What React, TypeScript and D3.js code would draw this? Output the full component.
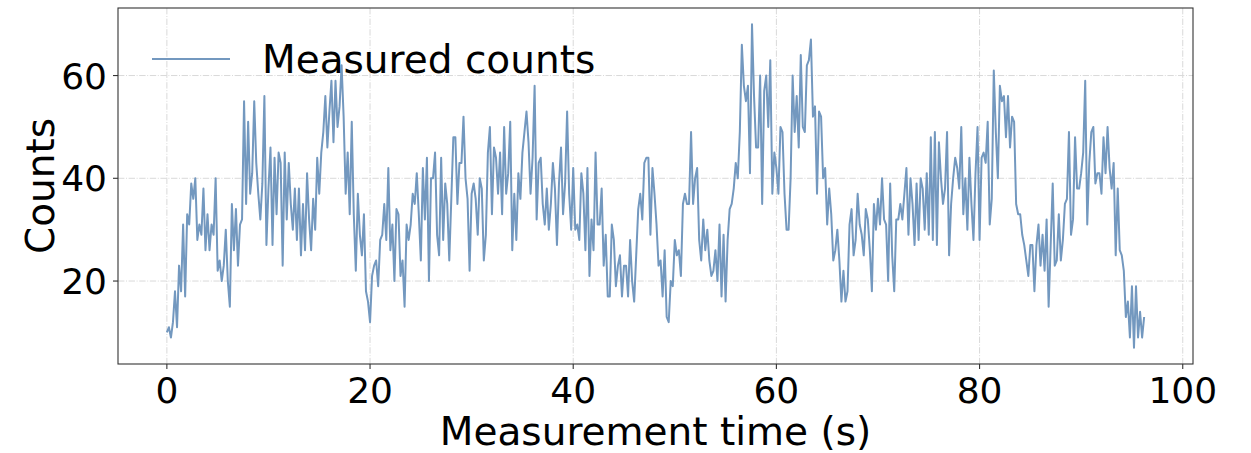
import React from "react";
import * as d3 from "d3";

// sampling interval of the detector (s)
const timeStep = 0.2;

// measured counts, one value per time step
const counts = [
  10, 11, 9, 12, 18, 11, 23, 18, 31, 17, 33, 31, 39, 36, 40, 28, 31, 29, 38, 26,
  33, 26, 31, 29, 40, 22, 24, 20, 23, 30, 20, 15, 35, 26, 34, 23, 31, 32, 55, 35,
  51, 37, 41, 55, 43, 37, 32, 39, 56, 27, 38,
  46, 27, 44, 33, 45, 43, 23, 45, 32, 43, 35, 30, 38, 28, 38, 25, 35, 26, 41, 32,
  26, 36, 30, 44, 37, 45, 49, 56, 46, 53, 59, 47, 59, 50, 54, 62, 52, 37, 45, 33,
  51, 33, 22, 37, 29, 25, 33, 18, 16, 12, 21, 23,
  24, 19, 28, 29, 35, 28, 42, 26, 31, 20, 34, 33, 21, 24, 15, 31, 28, 31, 37, 35,
  41, 33, 24, 42, 32, 44, 20, 40, 40, 45, 29, 25, 44, 28, 39, 35, 24, 36, 48, 48,
  35, 43, 43, 52, 40, 36, 22, 37, 39, 36, 29, 40,
  38, 24, 29, 45, 50, 33, 46, 44, 37, 45, 33, 50, 37, 41, 51, 26, 37, 28, 41, 36,
  45, 49, 53, 47, 37, 44, 58, 32, 43, 44, 35, 31, 38, 30, 35, 43, 38, 27, 39, 46,
  33, 39, 53, 37, 30, 42, 30, 31, 28, 41, 37,
  26, 42, 21, 32, 26, 45, 31, 31, 38, 23, 29, 17, 17, 31, 28, 19, 23, 25, 17, 23,
  23, 17, 28, 20, 16, 25, 34, 37, 32, 43, 44, 44, 29, 42, 37, 31, 23, 24, 17, 26,
  13, 12, 20, 19, 28, 25, 26, 21, 35, 37, 35, 35,
  49, 35, 40, 42, 28, 24, 32, 26, 30, 24, 21, 22, 26, 20, 31, 17, 29, 16, 28, 34,
  35, 38, 43, 40, 49, 66, 58, 55, 58, 41, 70, 56, 46, 46, 60, 35, 57, 60, 50, 63,
  37, 45, 42, 37, 50, 49, 37, 30, 30, 40, 60,
  49, 56, 46, 64, 50, 49, 62, 63, 67, 52, 54, 37, 53, 52, 40, 42, 31, 38, 33, 24,
  26, 30, 24, 16, 22, 16, 18, 31, 34, 25, 28, 37, 31, 29, 25, 34, 32, 26, 18, 35,
  30, 36, 31, 40, 32, 31, 20, 39, 25, 18, 32, 32,
  35, 32, 37, 42, 29, 40, 35, 27, 39, 28, 40, 38, 30, 41, 29, 48, 28, 49, 27, 47,
  40, 35, 38, 49, 25, 35, 40, 44, 42, 38, 50, 33, 40, 30, 44, 35, 28, 41, 50, 28,
  44, 45, 43, 51, 31, 36, 61, 49, 40, 58, 55, 56,
  48, 56, 46, 52, 51, 35, 33, 33, 29, 27, 24, 21, 27, 27, 18, 27, 31, 23, 29, 22,
  32, 15, 27, 39, 23, 24, 33, 24, 28, 35, 36, 49, 29, 32, 48, 38, 38, 41, 45, 59,
  31, 43, 49, 50, 39, 41, 41, 37, 48, 41, 50, 42,
  38, 43, 25, 38, 26, 25, 22, 13, 16, 9, 19, 7, 19, 9, 14, 9, 13,
];

const xTicks = [0, 20, 40, 60, 80, 100];
const yTicks = [20, 40, 60];
const legendLabel = "Measured counts";
const xLabel = "Measurement time (s)";
const yLabel = "Counts";

const W = 1251;
const H = 453;
const plot = { left: 118, right: 1193, top: 8, bottom: 364 };
const lineColor = "#7398bf";
const font = "'DejaVu Sans', sans-serif";
const tickSize = 36;
const labelSize = 39;

export default function App() {
  const times = counts.map((_, i) => i * timeStep);
  const [tMin, tMax] = d3.extent(times) as [number, number];
  const [cMin, cMax] = d3.extent(counts) as [number, number];
  const tPad = (tMax - tMin) * 0.05;
  const cPad = (cMax - cMin) * 0.05;

  const x = d3.scaleLinear().domain([tMin - tPad, tMax + tPad]).range([plot.left, plot.right]);
  const y = d3.scaleLinear().domain([cMin - cPad, cMax + cPad]).range([plot.bottom, plot.top]);

  const line = d3
    .line<number>()
    .x((_, i) => x(times[i]))
    .y((d) => y(d));

  const gridDash = "6.4,1.6,1,1.6";

  return (
    <div style={{ position: "absolute", left: 0, top: 0 }}>
      <svg width={W} height={H} style={{ display: "block", background: "#fff" }}>
        {/* grid */}
        <g stroke="#d9d9d9" strokeWidth={1} strokeDasharray={gridDash}>
          {xTicks.map((t) => (
            <line key={"gx" + t} x1={x(t)} x2={x(t)} y1={plot.top} y2={plot.bottom} />
          ))}
          {yTicks.map((t) => (
            <line key={"gy" + t} x1={plot.left} x2={plot.right} y1={y(t)} y2={y(t)} />
          ))}
        </g>

        {/* data */}
        <path d={line(counts) ?? ""} fill="none" stroke={lineColor} strokeWidth={2} strokeLinejoin="round" />

        {/* spines */}
        <rect
          x={plot.left}
          y={plot.top}
          width={plot.right - plot.left}
          height={plot.bottom - plot.top}
          fill="none"
          stroke="#333"
          strokeWidth={1.1}
        />

        <g fontFamily={font} fill="#000">
          {xTicks.map((t) => (
            <g key={"tx" + t}>
              <line x1={x(t)} x2={x(t)} y1={plot.bottom} y2={plot.bottom + 5} stroke="#333" strokeWidth={1.1} />
              <text x={x(t)} y={403} textAnchor="middle" fontSize={tickSize}>
                {t}
              </text>
            </g>
          ))}
          {yTicks.map((t) => (
            <g key={"ty" + t}>
              <line x1={plot.left - 5} x2={plot.left} y1={y(t)} y2={y(t)} stroke="#333" strokeWidth={1.1} />
              <text x={107} y={y(t)} dy="0.36em" textAnchor="end" fontSize={tickSize}>
                {t}
              </text>
            </g>
          ))}
          <text x={(plot.left + plot.right) / 2} y={445} textAnchor="middle" fontSize={labelSize}>
            {xLabel}
          </text>
          <text
            transform={`translate(54, ${(plot.top + plot.bottom) / 2}) rotate(-90)`}
            textAnchor="middle"
            fontSize={labelSize}
          >
            {yLabel}
          </text>
        </g>

        {/* legend */}
        <line x1={152} x2={230} y1={59} y2={59} stroke={lineColor} strokeWidth={2} />
        <text x={262} y={73} fontFamily={font} fontSize={labelSize} fill="#000">
          {legendLabel}
        </text>
      </svg>
    </div>
  );
}
